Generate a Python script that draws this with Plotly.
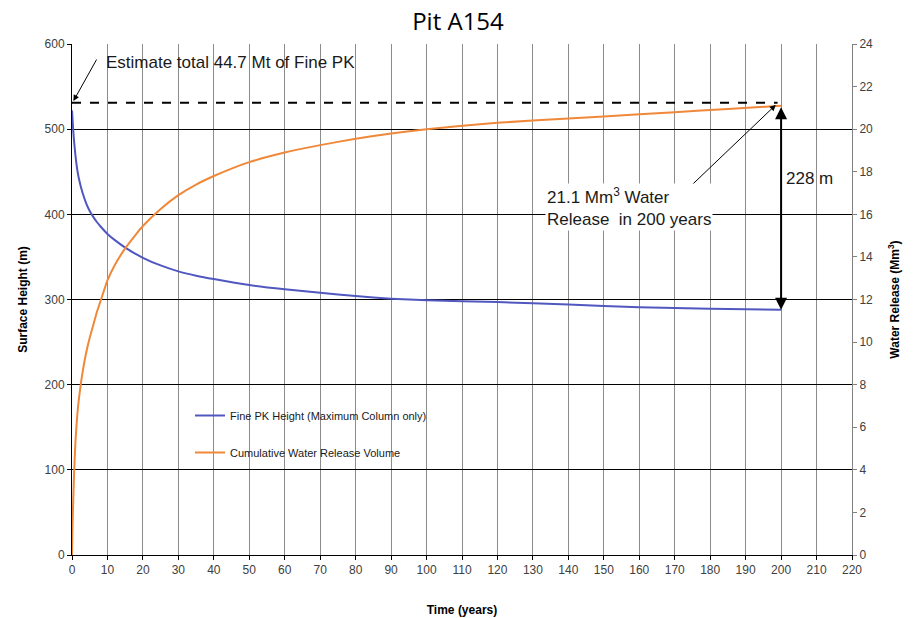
import plotly.graph_objects as go

# Fine PK surface height over time (left axis, m)
height_years = [0, 0.25, 0.5, 1, 1.5, 2, 3, 4, 5, 6, 7, 8, 10, 12, 15, 20, 25, 30, 35, 40,
                50, 60, 70, 80, 90, 100, 120, 140, 160, 180, 200]
height_m = [522, 505, 490, 468, 452, 441, 425, 413, 404, 397, 391, 386, 377, 370, 361, 349,
            340, 333, 328, 324, 317, 312, 308, 304, 301, 299, 297, 294, 291, 289, 288]

# Cumulative water release volume (right axis, Mm3)
water_years = [0, 0.1, 0.25, 0.5, 0.75, 1, 1.5, 2, 3, 4, 5, 6, 7, 8, 10, 12, 15, 18, 20, 25,
               30, 35, 40, 45, 50, 60, 70, 80, 90, 100, 120, 140, 150, 170, 185, 200]
water_mm3 = [0, 1.0, 2.0, 3.4, 4.5, 5.4, 6.6, 7.4, 8.6, 9.5, 10.2, 10.8, 11.4, 11.9, 12.9,
             13.6, 14.4, 15.05, 15.45, 16.25, 16.9, 17.4, 17.8, 18.15, 18.45, 18.9, 19.25,
             19.55, 19.8, 20.0, 20.3, 20.5, 20.6, 20.8, 20.95, 21.1]

x_ticks = list(range(0, 221, 10))
left_ticks = list(range(0, 601, 100))
right_ticks = list(range(0, 25, 2))

total_fine_pk_level = 531   # m, level of the total fine PK estimate
end_year = 200

BLUE = "#5058C0"
ORANGE = "#F0883A"
AXFONT = dict(family="Liberation Sans, Arial", size=12, color="#404040")
TEXTFONT = dict(family="Liberation Sans, Arial", size=17, color="#1a1a1a")

fig = go.Figure()
fig.add_trace(go.Scatter(
    x=height_years, y=height_m, mode="lines",
    line=dict(color=BLUE, width=2, shape="spline", smoothing=0.5),
    name="Fine PK Height (Maximum Column only)", legendgroup="a", yaxis="y"))
fig.add_trace(go.Scatter(
    x=water_years, y=water_mm3, mode="lines",
    line=dict(color=ORANGE, width=2, shape="spline", smoothing=0.5),
    name="Cumulative Water Release Volume", legendgroup="b", yaxis="y2"))

# dashed level of total fine PK
fig.add_shape(type="line", xref="x", yref="y", x0=0, x1=end_year - 1,
              y0=total_fine_pk_level, y1=total_fine_pk_level,
              line=dict(color="black", width=2, dash="dash"))

water_end = water_mm3[-1]
height_end = height_m[-1]
water_end_left = water_end * 600 / 24

annos = [
    # arrow pointing at start of the dashed line
    dict(x=0.4, y=total_fine_pk_level + 2, xref="x", yref="y", text="", showarrow=True,
         ax=24, ay=-43, arrowhead=2, arrowsize=1.2, arrowwidth=1, arrowcolor="black"),
    dict(x=104, y=62, xref="paper", yref="paper", text="Estimate total 44.7 Mt of Fine PK",
         showarrow=False, font=TEXTFONT, xanchor="left", yanchor="middle"),
    # arrow pointing to the end of the water release curve
    dict(x=end_year - 1.5, y=water_end_left + 1, xref="x", yref="y", text="", showarrow=True,
         ax=-88, ay=84, arrowhead=2, arrowsize=1.2, arrowwidth=1, arrowcolor="black"),
    dict(x=545, y=207, xref="paper", yref="paper",
         text="21.1 Mm<sup>3</sup> Water<br>Release\u00a0\u00a0in 200 years",
         showarrow=False, font=TEXTFONT, xanchor="left", yanchor="middle", align="left",
         bgcolor="white"),
    # double-headed arrow between the two curve ends
    dict(x=end_year, y=height_end, xref="x", yref="y", text="", showarrow=True,
         ax=end_year, ay=water_end_left, axref="x", ayref="y", arrowhead=2, startarrowhead=2,
         arrowside="end+start", arrowsize=1.2, arrowwidth=2, arrowcolor="black"),
    dict(x=784, y=178, xref="paper", yref="paper", text="228 m", showarrow=False,
         font=TEXTFONT, xanchor="left", yanchor="middle"),
]

# convert pixel placement of free text to paper coords
L, R, T, B = 72, 852, 44, 555
for a in annos:
    if a.get("xref") == "paper":
        a["x"] = (a["x"] - L) / (R - L)
        a["y"] = (B - a["y"]) / (B - T)

TITLEFONT = dict(family="Liberation Sans, Arial", size=12, color="black")

fig.update_layout(
    width=916, height=618,
    margin=dict(l=L, r=916 - R, t=T, b=618 - B),
    paper_bgcolor="white", plot_bgcolor="white",
    title=dict(text="Pit A154", x=0.5, xanchor="center", y=0.965, yanchor="middle",
               font=dict(family="Open Sans", size=24, color="black")),
    xaxis=dict(range=[0, 220], tickvals=x_ticks, showgrid=True, gridcolor="#8c8c8c",
               gridwidth=1, showline=True, linecolor="black", linewidth=1, ticks="outside",
               ticklen=4, tickcolor="black", tickfont=AXFONT, zeroline=False,
               automargin=False,
               title=dict(text="<b>Time (years)</b>", font=TITLEFONT, standoff=29)),
    yaxis=dict(range=[0, 600], tickvals=left_ticks, showgrid=True, gridcolor="black",
               gridwidth=1, showline=True, linecolor="black", linewidth=1, ticks="outside",
               ticklen=4, tickcolor="black", tickfont=AXFONT, zeroline=False,
               automargin=False,
               title=dict(text="<b>Surface Height (m)</b>", font=TITLEFONT, standoff=14)),
    yaxis2=dict(range=[0, 24], tickvals=right_ticks, overlaying="y", side="right",
                showgrid=False, showline=True, linecolor="#808080", linewidth=1,
                ticks="outside", ticklen=4, tickcolor="#808080", tickfont=AXFONT,
                zeroline=False, automargin=False,
                title=dict(text="<b>Water Release (Mm<sup>3</sup>)</b>", font=TITLEFONT,
                           standoff=18)),
    legend=dict(x=(190 - L) / (R - L), y=(555 - 401) / (B - T), xanchor="left", yanchor="top",
                bgcolor="rgba(255,255,255,0)",
                font=dict(family="Liberation Sans, Arial", size=11, color="#1a1a1a"),
                tracegroupgap=18, traceorder="grouped"),
    showlegend=True,
    annotations=annos,
)

fig.write_html("out.html")
